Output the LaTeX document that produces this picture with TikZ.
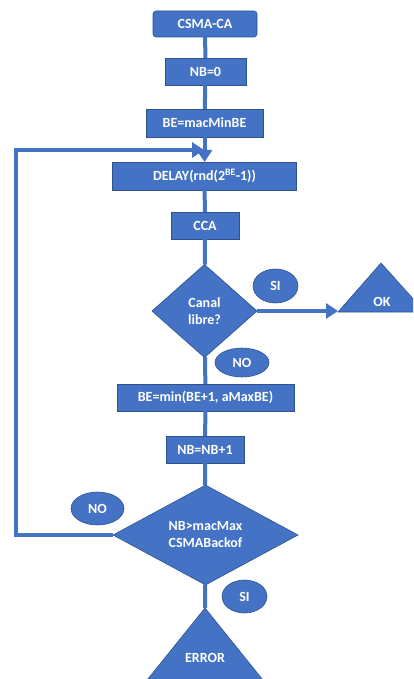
\documentclass[tikz,border=0pt]{standalone}
\usepackage{fontspec}
\setmainfont{Carlito}
\usetikzlibrary{shapes.geometric,arrows.meta}
\definecolor{ofblue}{HTML}{4472C4}
\definecolor{ofedge}{HTML}{2F528F}
\begin{document}
\begin{tikzpicture}[x=1pt,y=-1pt,
  txt/.style={text=white, font=\fontsize{14}{17}\selectfont\bfseries},
  box/.style={rectangle, fill=ofblue, draw=ofedge, line width=0.6pt, txt, inner sep=0pt, outer sep=0pt},
  dec/.style={diamond, aspect=1, fill=ofblue, draw=ofedge, line width=0.6pt, txt, align=center, inner sep=0pt, outer sep=0pt},
  lbl/.style={ellipse, fill=ofblue, draw=ofedge, line width=0.6pt, txt, inner sep=0pt, outer sep=0pt},
  tri/.style={fill=ofblue, draw=ofedge, line width=0.6pt},
  conn/.style={draw=ofblue, line width=4pt},
  arr/.style={conn, -{Triangle[length=12pt,width=15pt]}}]
\useasboundingbox (0,0) rectangle (413,679);
\clip (0,0) rectangle (413,679);
% nodes
\node[box, rounded corners=3pt, minimum width=104pt, minimum height=26pt] (csma) at (205,24) {CSMA-CA};
\node[box, minimum width=81pt, minimum height=27pt] (nb0) at (205.5,71.5) {NB=0};
\node[box, minimum width=117pt, minimum height=28pt] (bemin) at (204.5,123) {BE=macMinBE};
\node[box, minimum width=184pt, minimum height=28pt] (delay) at (204.5,176) {DELAY(rnd(2\textsuperscript{BE}-1))};
\node[box, minimum width=68pt, minimum height=27pt] (cca) at (205,225.5) {CCA};
\node[dec, minimum width=105pt, minimum height=93pt] (canal) at (204.5,311) {Canal\\libre?};
\node[lbl, minimum width=45pt, minimum height=34pt] (si1) at (275.5,286) {SI};
\draw[tri] (381,263) -- (425,312) -- (338,312) -- cycle;
\node[txt] (ok) at (382,302) {OK};
\coordinate (okw) at (338,311);
\node[lbl, minimum width=54pt, minimum height=29pt] (no1) at (242,362.5) {NO};
\node[box, minimum width=177pt, minimum height=27pt] (bemax) at (205.5,397.5) {BE=min(BE+1, aMaxBE)};
\node[box, minimum width=78pt, minimum height=27pt] (nbinc) at (205,449.5) {NB=NB+1};
\node[dec, minimum width=185pt, minimum height=93pt] (bo) at (205.5,535) {NB>macMax\\CSMABackof};
\node[lbl, minimum width=53pt, minimum height=33pt] (no2) at (97.5,508.5) {NO};
\node[lbl, minimum width=45pt, minimum height=33pt] (si2) at (244.5,596.5) {SI};
\draw[tri] (205,608) -- (271,690) -- (139,690) -- cycle;
\node[txt] (err) at (205,658) {ERROR};
\coordinate (erra) at (205,608);
\coordinate (lft) at (16,150);
\coordinate (j) at (204,150);
% connectors
\draw[conn] (csma) -- (nb0);
\draw[conn] (nb0) -- (bemin);
\draw[arr] (bemin) -- (delay);
\draw[conn] (delay) -- (cca);
\draw[conn] (cca) -- (canal);
\draw[arr] (canal.east) -- (okw);
\draw[conn] (canal) -- (bemax);
\draw[conn] (bemax) -- (nbinc);
\draw[conn] (nbinc) -- (bo);
\draw[conn] (bo) -- (erra);
\draw[arr] (bo.west) -| (lft) -- (j);
\end{tikzpicture}
\end{document}
